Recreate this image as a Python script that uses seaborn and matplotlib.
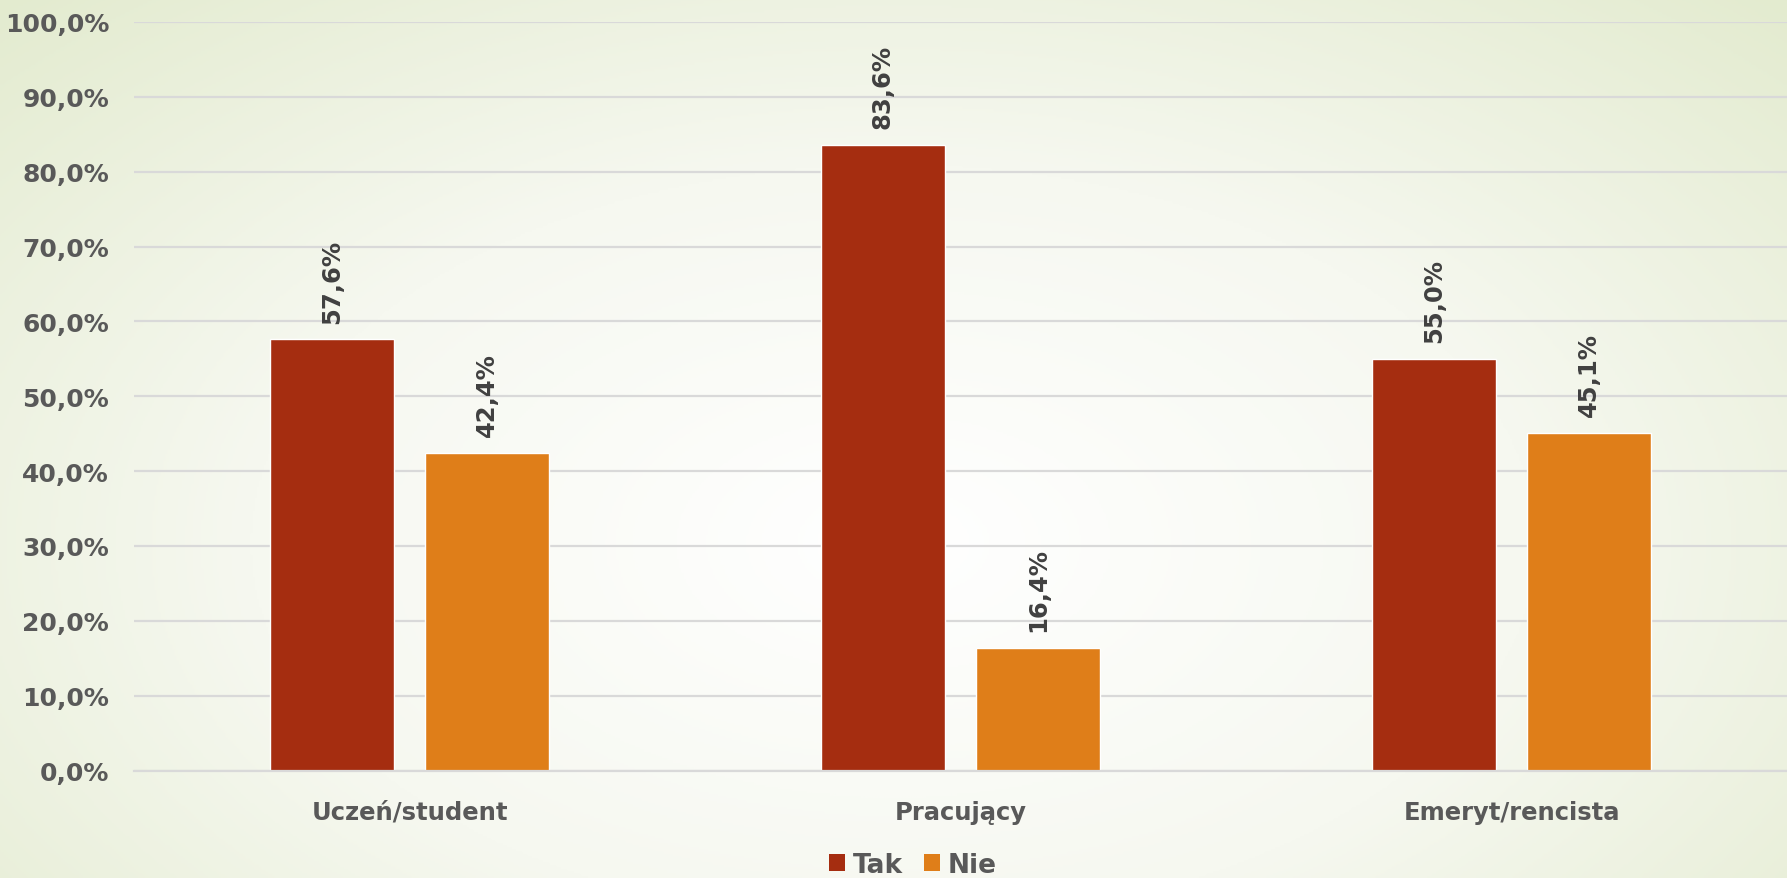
import numpy as np
import pandas as pd
import matplotlib
matplotlib.use("Agg")
import matplotlib.pyplot as plt
import seaborn as sns
from matplotlib.colors import LinearSegmentedColormap
from matplotlib.patches import Patch

categories = ["Uczeń/student", "Pracujący", "Emeryt/rencista"]
series = ["Tak", "Nie"]
tak_values = [57.6, 83.6, 55.0]
nie_values = [42.4, 16.4, 45.1]
yticks = [0, 10, 20, 30, 40, 50, 60, 70, 80, 90, 100]

colors = {"Tak": "#A52D10", "Nie": "#DF7E19"}
text_gray = "#595959"
label_dark = "#404040"

sns.set_theme(style="white")
plt.rcParams['font.family'] = ['DejaVu Sans']

df = pd.DataFrame({
    "Kategoria": categories * 2,
    "Seria": ["Tak"] * 3 + ["Nie"] * 3,
    "Wartość": tak_values + nie_values,
})

W, H = 1787, 879
fig = plt.figure(figsize=(W / 100, H / 100), dpi=100)

# background radial gradient
bg = fig.add_axes([0, 0, 1, 1], zorder=-10)
yy, xx = np.mgrid[0:1:400j, 0:1:800j]
r = np.sqrt(((xx - 0.5) / 0.75) ** 2 + ((yy - 0.62) / 0.9) ** 2)
cmap = LinearSegmentedColormap.from_list("bg", ["#ffffff", "#f6f8f0", "#e3ebcf"])
bg.imshow(np.clip(r, 0, 1), cmap=cmap, aspect="auto", extent=[0, 1, 0, 1], origin="upper")
bg.axis("off")

left = 134 / W
bottom = 1 - 771.5 / H
top = 1 - 23 / H
ax = fig.add_axes([left, bottom, 1 - left, top - bottom])
ax.set_facecolor("none")

sns.barplot(data=df, x="Kategoria", y="Wartość", hue="Seria", hue_order=series,
            order=categories, palette=colors, width=0.564, gap=0.2,
            saturation=1, ax=ax, legend=False)

ax.set_xlim(-0.5, 2.5)
ax.set_ylim(0, 100)
ax.set_yticks(yticks)
ax.set_yticklabels([f"{v:.1f}%".replace(".", ",") for v in yticks],
                   fontsize=18, fontweight="bold", color=text_gray)
ax.tick_params(axis="y", length=0, pad=18)
ax.tick_params(axis="x", length=0, pad=21)
for lab in ax.get_xticklabels():
    lab.set_fontsize(17.5)
    lab.set_fontweight("bold")
    lab.set_color(text_gray)
ax.set_xlabel("")
ax.set_ylabel("")
ax.grid(axis="y", color="#d9d9d9", linewidth=1.6)
ax.set_axisbelow(True)
for s in ["top", "right", "left"]:
    ax.spines[s].set_visible(False)
ax.spines["bottom"].set_color("#d9d9d9")
ax.spines["bottom"].set_linewidth(1.6)

for cont in ax.containers:
    ax.bar_label(cont, labels=[f"{v:.1f}%".replace(".", ",") for v in cont.datavalues],
                 rotation=90, padding=12, fontsize=17.5, fontweight="bold", color=label_dark)

handles = [Patch(facecolor=colors[s], edgecolor="none", label=s) for s in series]
fig.legend(handles=handles, loc="center", bbox_to_anchor=(0.511, 1 - 866 / H), ncol=2,
           frameon=False, handlelength=0.6, handleheight=0.6, handletextpad=0.3,
           columnspacing=0.8, prop={"size": 19, "weight": "bold"}, labelcolor=text_gray)

fig.savefig("out.png", dpi=100)
